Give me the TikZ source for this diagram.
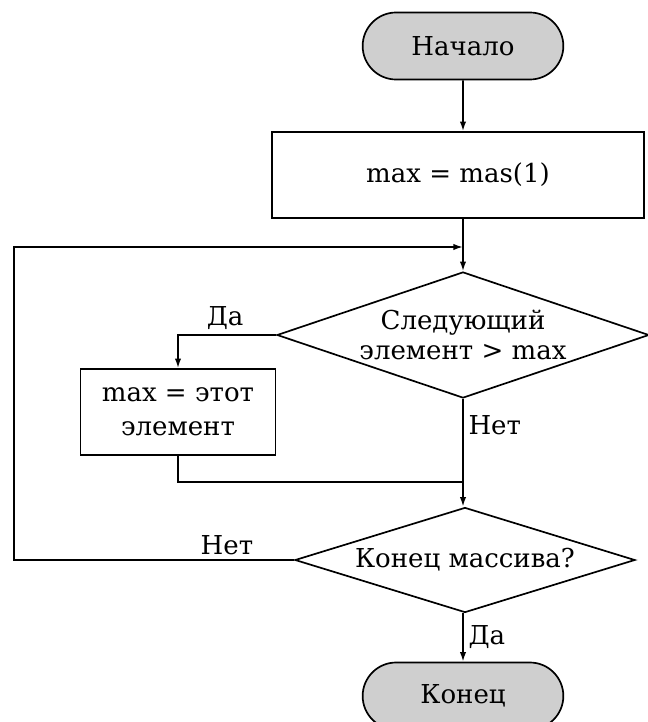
\documentclass[tikz,border=0pt]{standalone}
\usepackage{fontspec}
\setmainfont{DejaVu Serif}
\usetikzlibrary{arrows.meta, positioning, shapes.geometric, shapes.misc}
\definecolor{cgrey}{HTML}{CFCFCF}
\tikzset{
  every picture/.style={font=\fontsize{18.5}{22}\selectfont, line width=1.2pt},
  term/.style={draw, fill=cgrey, rounded rectangle, minimum width=5.25cm, minimum height=1.675cm},
  proc/.style={draw, rectangle, align=center, minimum height=2.15cm},
  decide/.style={draw, diamond, aspect=2.9, inner sep=0pt, align=center},
  arrow/.style={-{Latex[length=2.4mm, width=1.6mm]}},
}

\begin{document}
\begin{tikzpicture}[x=0.025cm, y=-0.025cm]
  \useasboundingbox (0,0) rectangle (648,722);
  \node[term] (start) at (463,46) {Начало};
  \node[proc, minimum width=9.3cm] (init) at (458,175) {max = mas(1)};
  \node[decide, minimum width=9.3cm, minimum height=3.15cm] (cmp) at (463,335) {Следующий\\элемент > max};
  \node[proc, minimum width=4.875cm, font=\fontsize{18.5}{24}\selectfont] (assign) at (178,412) {max = этот\\элемент};
  \node[decide, minimum width=8.5cm, minimum height=2.625cm] (last) at (465,560) {Конец массива?};
  \node[term] (stop) at (463,696) {Конец};
  \coordinate (loop) at (463,247);
  \coordinate (join) at (463,482);
  \draw[arrow] (start) -- (start |- init.north);
  \draw (init.south -| cmp) -- (loop);
  \draw[arrow] (loop) -- (cmp.north);
  \draw[arrow] (cmp.west) -| node[pos=0.26, above] {Да} (assign.north);
  \draw (assign.south) |- (join);
  \draw[arrow] (cmp.south) -- node[pos=0.24, right] {Нет} (last.north -| cmp.south);
  \draw[arrow] (last.west) -- node[pos=0.24, above] {Нет} ++(-280,0) |- (loop);
  \draw[arrow] (last.south -| stop) -- node[right] {Да} (stop.north);
\end{tikzpicture}
\end{document}
